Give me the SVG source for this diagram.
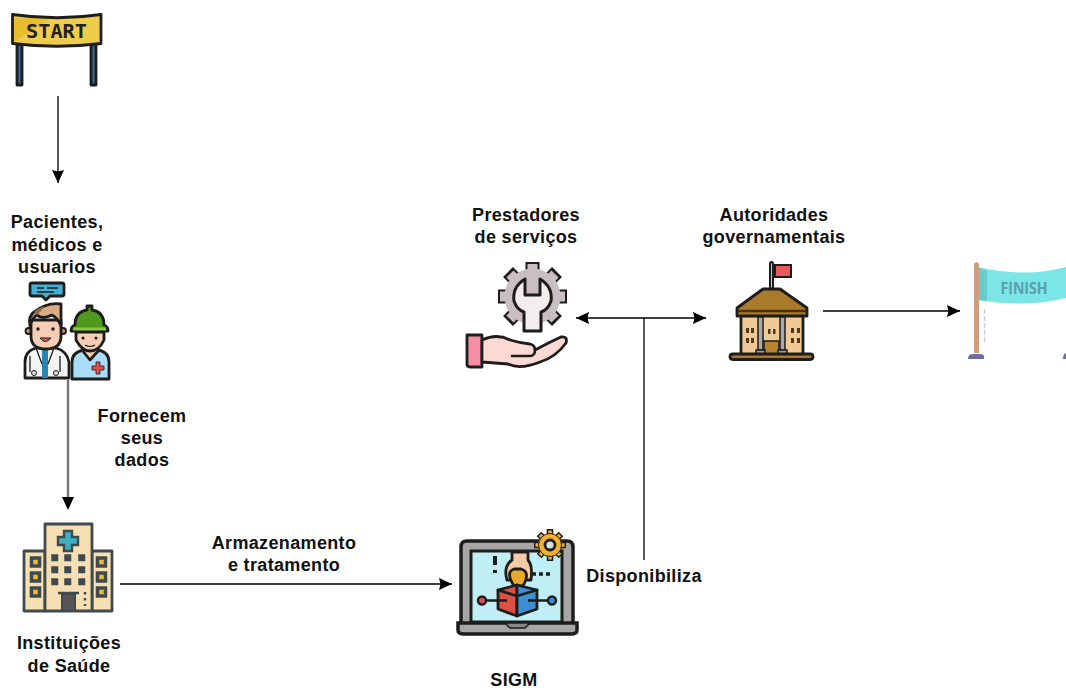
<svg xmlns="http://www.w3.org/2000/svg" width="1066" height="688" viewBox="0 0 1066 688">
<defs>
<marker id="arr" markerUnits="userSpaceOnUse" markerWidth="14" markerHeight="13" refX="13" refY="6.500" orient="auto-start-reverse"><path d="M0 0.500L13 6.500L0 12.500L1.500 6.500Z" fill="#000"/></marker>
</defs>
<style>
.t{font-family:"Liberation Sans",Arial,sans-serif;font-size:18px;letter-spacing:.35px;font-weight:700;fill:#111;text-anchor:middle}
.k{stroke:#1d1d1b;stroke-width:2.800;stroke-linejoin:round;stroke-linecap:round}
.h{stroke:#3f4a4f;stroke-width:2.800;stroke-linejoin:round}
.c{fill:none;stroke:#000;stroke-width:1.300}
</style>
<rect width="1066" height="688" fill="#fff"/>

<g id="connectors">
<path class="c" d="M58 96V183" marker-end="url(#arr)"/>
<path d="M68 380V500" fill="none" stroke="#777" stroke-width="2.400"/>
<path d="M62 497L68 510L74 497Z" fill="#000"/>
<path class="c" d="M120 584H452" marker-end="url(#arr)"/>
<path class="c" d="M644 560V318"/>
<path class="c" d="M576 318H706" marker-start="url(#arr)" marker-end="url(#arr)"/>
<path class="c" d="M823 311H960" marker-end="url(#arr)"/>
</g>

<g id="start">
<path d="M17 44H22V85H17ZM91 44H96V85H91Z" fill="#3f6596" class="k"/>
<path d="M12.500 14.500Q57 21 101 14.500V43.500Q57 49 12.500 43.500Z" fill="#efcd4a"/>
<path d="M13 43L50 18H13Z" fill="#e6bd2c"/>
<path d="M12.500 14.500Q57 21 101 14.500V43.500Q57 49 12.500 43.500Z" fill="none" class="k"/>
<text x="56.500" y="38" font-family="'DejaVu Sans Mono',monospace" font-size="19" font-weight="700" fill="#222" text-anchor="middle" textLength="61" lengthAdjust="spacingAndGlyphs">START</text>
</g>

<g id="pacientes">
<text class="t"><tspan x="57" y="228">Pacientes,</tspan><tspan x="57" y="251">médicos e</tspan><tspan x="57" y="273">usuarios</tspan></text>
<path d="M32 283H62Q64 283 64 285V294Q64 296 62 296H50L46 300L42 296H32Q30 296 30 294V285Q30 283 32 283Z" fill="#3fb0d8" class="k"/>
<path d="M37 288H44M47 288H58M37 292H54" stroke="#1d1d1b" stroke-width="1.500"/>
<path d="M25 378V362Q25 351 36 348H56Q67 351 69 362V378Z" fill="#f4f4f4" class="k"/>
<path d="M42 348H48V378H42Z" fill="#2c86b5"/>
<path d="M36 348L42 364M54 348L48 364M30 356V372M60 356V372" fill="none" stroke="#1d1d1b" stroke-width="1.300"/>
<circle cx="34" cy="373" r="2.500" fill="#ddd" stroke="#1d1d1b"/>
<circle cx="56" cy="373" r="2.500" fill="#ddd" stroke="#1d1d1b"/>
<circle cx="28.500" cy="331" r="3" fill="#c98f6c" stroke="#1d1d1b" stroke-width="1.800"/>
<circle cx="63" cy="331" r="3" fill="#c98f6c" stroke="#1d1d1b" stroke-width="1.800"/>
<path d="M31 336Q31 349 46 349Q61 349 61 336V320H31Z" fill="#f6cdb5" class="k"/>
<path d="M30 326Q28 316 34 312Q47 302 61 304V326Q58 318 52 315Q42 320 37 315Q32 318 30 326Z" fill="#d8ad84" class="k"/>
<path d="M34 312Q38 308 44 306Q42 311 37 315Z" fill="#8a6b4e"/>
<path d="M40 338Q45 345 51 338Z" fill="#e4574c" stroke="#1d1d1b"/>
<circle cx="38" cy="329" r="1.700" fill="#1d1d1b"/><circle cx="53" cy="329" r="1.700" fill="#1d1d1b"/>
<path d="M72 379V362Q72 352 84 350H98Q109 352 109 362V379Z" fill="#a9dcf6" class="k"/>
<path d="M82 350L90 360L99 350" fill="#f6cdb5" class="k"/>
<path d="M96 362H100V366H104V370H100V374H96V370H92V366H96Z" fill="#e04f4f" stroke="#1d1d1b" stroke-width="0.800"/>
<path d="M76 332V340Q82 351 90 351Q99 351 104 340V332Z" fill="#f6cdb5" class="k"/>
<path d="M71 331Q71 326 75 325Q75 312 87 310V306H92V310Q104 312 104 325Q108 326 108 331Z" fill="#4f9a1e" class="k"/>
<path d="M73 329H106" stroke="#8cc63f" stroke-width="3"/>
<circle cx="83" cy="338" r="1.500" fill="#1d1d1b"/><circle cx="96" cy="338" r="1.500" fill="#1d1d1b"/>
<path d="M85 345Q90 348 95 345" fill="none" stroke="#1d1d1b" stroke-width="1.200"/>
</g>

<g id="fornecem">
<text class="t"><tspan x="142" y="422">Fornecem</tspan><tspan x="142" y="444">seus</tspan><tspan x="142" y="466">dados</tspan></text>
</g>

<g id="instituicoes">
<path d="M24 551H45V611H24ZM92 551H112V611H92Z" fill="#f6dfb2" class="h"/>
<path d="M45 524H92V611H45Z" fill="#f6dfb2" class="h"/>
<path d="M64 531H72V537H78V545H72V551H64V545H58V537H64Z" fill="#3eaec2" stroke="#3f4a4f" stroke-width="2.400"/>
<g fill="#f2bd2e" stroke="#3f4a4f" stroke-width="3.500">
<rect x="31.500" y="558" width="8" height="8"/><rect x="31.500" y="573" width="8" height="8"/><rect x="31.500" y="588" width="8" height="8"/>
<rect x="97.500" y="558" width="8" height="8"/><rect x="97.500" y="573" width="8" height="8"/><rect x="97.500" y="588" width="8" height="8"/>
<rect x="53" y="556" width="3.500" height="3.500"/><rect x="66" y="556" width="3.500" height="3.500"/><rect x="80" y="556" width="3.500" height="3.500"/>
<rect x="53" y="568" width="3.500" height="3.500"/><rect x="66" y="568" width="3.500" height="3.500"/><rect x="80" y="568" width="3.500" height="3.500"/>
<rect x="53" y="580" width="3.500" height="3.500"/><rect x="66" y="580" width="3.500" height="3.500"/><rect x="80" y="580" width="3.500" height="3.500"/>
</g>
<path d="M62 594H75V611H62Z" fill="#555" stroke="#3f4a4f" stroke-width="2"/>
<path d="M58 593H79" stroke="#3f4a4f" stroke-width="2.500"/>
<path d="M85 592V606" stroke="#3f4a4f" stroke-width="2.500" stroke-dasharray="2.500 3.500"/>
<text class="t"><tspan x="69" y="649">Instituições</tspan><tspan x="69" y="672">de Saúde</tspan></text>
</g>

<g id="armazenamento">
<text class="t"><tspan x="284" y="549">Armazenamento</tspan><tspan x="284" y="571">e tratamento</tspan></text>
</g>

<g id="sigm">
<path d="M461 627V547Q461 541 467 541H567Q573 541 573 547V627Z" fill="#a6a6a6" stroke="#1d1d1b" stroke-width="3.500"/>
<rect x="471" y="551" width="91" height="71" fill="#bfeef4" stroke="#1d1d1b" stroke-width="3"/>
<path d="M458 623H577V630Q577 634 571 634H464Q458 634 458 630Z" fill="#a6a6a6" stroke="#1d1d1b" stroke-width="3.500"/>
<path d="M505 623H530L525 628H510Z" fill="#888" stroke="#1d1d1b" stroke-width="1.500"/>
<path d="M512 552H528V560Q533 566 531 580H507Q503 566 512 560Z" fill="#f6c9a8" class="k"/>
<path d="M514 586Q505 572 514 569H521Q531 572 523 586Z" fill="#e8a92c" class="k"/>
<path d="M495 556V565M495 570V573" stroke="#1d1d1b" stroke-width="4"/>
<path d="M532 574H552" stroke="#1d1d1b" stroke-width="3.500" stroke-dasharray="4 3"/>
<path d="M498 590L517 585V616L498 609Z" fill="#dd5044" class="k"/>
<path d="M537 590L517 585V616L537 609Z" fill="#3d8fd2" class="k"/>
<path d="M486 600.500H507M528 600.500H548" stroke="#1d1d1b" stroke-width="2.400"/>
<path d="M498 590L517 596L537 590" fill="none" class="k"/>
<path d="M517 596V616" stroke="#1d1d1b" stroke-width="1.500"/>
<circle cx="482" cy="600.500" r="4" fill="#d8505a" stroke="#1d1d1b" stroke-width="2.400"/>
<circle cx="552" cy="600.500" r="4" fill="#3d8fd2" stroke="#1d1d1b" stroke-width="2.400"/>
<path d="M550 529V561M534 545H566M539 534L561 556M561 534L539 556" stroke="#1d1d1b" stroke-width="6.500"/>
<path d="M550 530.500V559.500M535.500 545H564.500M540 535L560 555M560 535L540 555" stroke="#f0b030" stroke-width="3.500"/>
<circle cx="550" cy="545" r="11.500" fill="#f0b030" stroke="#1d1d1b" stroke-width="1"/>
<circle cx="550" cy="545" r="5" fill="#ddd" stroke="#1d1d1b" stroke-width="2.800"/>
<text class="t" x="514" y="686">SIGM</text>
</g>

<g id="disponibiliza">
<text class="t" x="644" y="582">Disponibiliza</text>
</g>

<g id="prestadores">
<text class="t"><tspan x="526" y="221">Prestadores</tspan><tspan x="526" y="243">de serviços</tspan></text>
<path d="M532.500 262V331M498 296.500H567M508 272L557 321M557 272L508 321" stroke="#1d1d1b" stroke-width="14"/>
<path d="M532.500 264V329M500 296.500H565M510 274L555 319M555 274L510 319" stroke="#c9bfc2" stroke-width="10"/>
<circle cx="532.500" cy="296.500" r="28" fill="#c9bfc2"/>
<path d="M525 279V295H540V279Q553 287 551 301Q548 310 541 312V331H524V312Q517 310 514 301Q512 287 525 279Z" fill="#f2eeee" stroke="#1d1d1b" stroke-width="3" stroke-linejoin="round"/>
<path d="M467 335H482V367H470Q467 367 467 364Z" fill="#f68da5" class="k"/>
<path d="M482 340Q497 333 510 340Q520 343 530 344Q535 345 535 350Q550 342 561 337Q568 336 566 343Q556 357 540 362Q520 370 508 364L482 362Z" fill="#fcd9d2" class="k"/>
<path d="M512 356H530Q535 356 535 350" fill="none" stroke="#1d1d1b" stroke-width="2.600" stroke-linecap="round"/>
</g>

<g id="autoridades">
<text class="t"><tspan x="774" y="221">Autoridades</tspan><tspan x="774" y="243">governamentais</tspan></text>
<path d="M770 290V264Q770 262 771.500 262Q773 262 773 264V290Z" fill="#ccc" stroke="#1d1d1b" stroke-width="2"/>
<path d="M775 265H791V277H775Z" fill="#ea5a5a" stroke="#1d1d1b" stroke-width="2"/>
<rect x="741" y="315" width="62" height="40" fill="#f0c994" class="k"/>
<path d="M737 308L763 289H780L807 308V316H737Z" fill="#a97a2a" class="k"/>
<path d="M738 311H806" stroke="#4a3010" stroke-width="2.500"/>
<path d="M764 341H779V355H764Z" fill="#b5852f" stroke="#1d1d1b" stroke-width="1.500"/>
<path d="M758 317H763V350H758ZM780 317H785V350H780Z" fill="#aaa" stroke="#1d1d1b" stroke-width="1.500"/>
<path d="M756 350H765V354H756ZM778 350H787V354H778Z" fill="#999" stroke="#1d1d1b" stroke-width="1.500"/>
<g fill="#4a3a20"><rect x="746" y="328" width="3" height="5"/><rect x="751" y="328" width="3" height="5"/><rect x="746" y="338" width="3" height="5"/><rect x="751" y="338" width="3" height="5"/><rect x="768" y="329" width="2.500" height="5"/><rect x="773" y="329" width="2.500" height="5"/><rect x="791" y="328" width="3" height="5"/><rect x="797" y="328" width="3" height="5"/><rect x="791" y="338" width="3" height="5"/><rect x="797" y="338" width="3" height="5"/></g>
<rect x="730" y="354" width="83" height="5.500" rx="2.700" fill="#a97a2a" class="k"/>
</g>

<g id="finish">
<path d="M978 267Q1025 278 1066 267V298Q1025 308 978 300Z" fill="#7ce5e6"/>
<path d="M978 267L987 271V301L978 300Z" fill="#6bcbc9"/>
<path d="M974 264Q976 260 979 264V353H974Z" fill="#cf9c80"/>
<path d="M968 359Q968 354 973 354H980Q985 354 984 359Z" fill="#6f6d9d"/>
<path d="M1063 359Q1063 354 1066 353V359Z" fill="#6f6d9d"/>
<path d="M984.500 309V344" stroke="#c5cde3" stroke-width="1.500" stroke-dasharray="5 2"/>
<text x="1024" y="294" font-family="'Open Sans','Liberation Sans',sans-serif" font-size="16.500" font-weight="700" fill="#5a9fae" text-anchor="middle" textLength="47" lengthAdjust="spacingAndGlyphs">FINISH</text>
</g>
</svg>
